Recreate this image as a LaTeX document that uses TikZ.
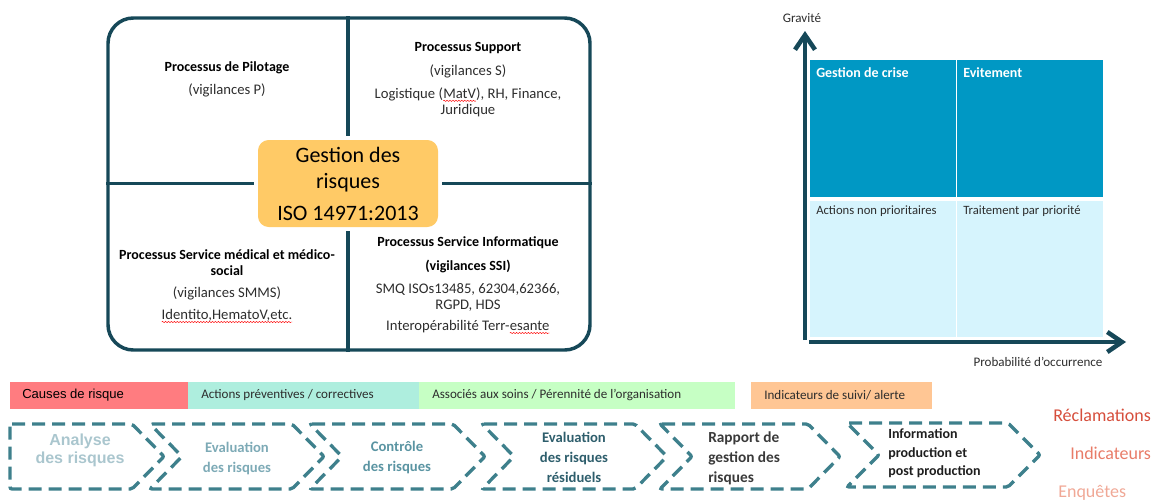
\documentclass[tikz,border=0pt]{standalone}
\usepackage{fontspec}
\setmainfont{Carlito}
\newfontfamily\arialfont{Liberation Sans}
\usetikzlibrary{arrows.meta,decorations.pathmorphing,calc}

\definecolor{frameteal}{RGB}{22,72,88}
\definecolor{coreyellow}{RGB}{255,202,102}
\definecolor{riskdark}{RGB}{0,152,196}
\definecolor{risklight}{RGB}{214,244,253}
\definecolor{chevteal}{RGB}{62,128,140}
\definecolor{barred}{RGB}{255,124,128}
\definecolor{barmint}{RGB}{174,238,222}
\definecolor{bargreen}{RGB}{198,255,196}
\definecolor{barpeach}{RGB}{255,198,148}
\definecolor{stepA}{RGB}{170,198,206}
\definecolor{stepB}{RGB}{125,170,182}
\definecolor{stepC}{RGB}{90,148,162}
\definecolor{stepD}{RGB}{46,94,108}
\definecolor{stepE}{RGB}{58,58,58}
\definecolor{stepF}{RGB}{30,30,30}
\definecolor{reclam}{RGB}{214,78,60}
\definecolor{indic}{RGB}{232,124,104}
\definecolor{enquet}{RGB}{240,168,150}
\definecolor{bodytext}{RGB}{45,45,45}

\tikzset{
  frame/.style={draw=frameteal, line width=2.6pt, rounded corners=19pt},
  divider/.style={draw=frameteal, line width=2.4pt, shorten >=3pt},
  core/.style={fill=coreyellow, rounded corners=8pt, align=center, inner sep=0pt,
    font=\fontsize{16.5}{19.5}\selectfont, text=black},
  head/.style={font=\fontsize{10.5}{11.5}\selectfont\bfseries, text=black, align=center, inner sep=0pt},
  body/.style={font=\fontsize{11}{12}\selectfont, text=bodytext, align=center, inner sep=0pt},
  spellwave/.style={draw=red, line width=0.35pt, decorate,
    decoration={snake, amplitude=0.45pt, segment length=2.2pt}},
  axis/.style={draw=frameteal, line width=3.4pt, line cap=butt,
    -{Straight Barb[length=11pt, width=15pt]}},
  quadhead/.style={font=\fontsize{10.5}{12}\selectfont\bfseries, text=white, anchor=west, inner sep=0pt},
  quadbody/.style={font=\fontsize{9.5}{11}\selectfont, text=bodytext, anchor=west, inner sep=0pt},
  axislabel/.style={font=\fontsize{9.8}{11}\selectfont, text=bodytext, inner sep=0pt},
  bartext/.style={font=\fontsize{9.8}{11}\selectfont, text=bodytext, anchor=west, inner sep=0pt},
  chev/.style={draw=chevteal, line width=2.5pt, dash pattern=on 9.75pt off 5.25pt,
    rounded corners=1.5pt, line cap=butt},
  steptext/.style={font=\fontsize{11}{15}\selectfont\bfseries, align=center, inner sep=0pt},
  sidelabel/.style={font=\fontsize{13.5}{16}\selectfont, anchor=west, inner sep=0pt},
}

% word with a red wavy underline
\newcommand\spellmark[1]{\tikz[baseline=(sm.base)]{\node[inner sep=0pt,outer sep=0pt](sm){#1};%
  \draw[spellwave]([yshift=-2pt]sm.base west)--([yshift=-2pt]sm.base east);}}

\begin{document}
\begin{tikzpicture}[x=0.75pt, y=-0.75pt]
\useasboundingbox (0,0) rectangle (1157,500);

% ---------- process map ----------
\node[frame, minimum width=361.5pt, minimum height=249pt] (frame) at (349,184) {};
\node[core, minimum width=135pt, minimum height=65.25pt] (core) at (348,183.5)
  {Gestion des\\risques\\[4.5pt]ISO 14971:2013};
\draw[divider] (core.north |- frame.north) -- (core.north);
\draw[divider] (core.south |- frame.south) -- (core.south);
\draw[divider] (frame.west |- core.west) -- (core.west);
\draw[divider] (frame.east |- core.east) -- (core.east);

\node[head] (pil1) at (227,68) {Processus de Pilotage};
\node[body] (pil2) at (227,90) {(vigilances P)};

\node[head] (sup1) at (468,48) {Processus Support};
\node[body] (sup2) at (468,71) {(vigilances S)};
\node[body] (sup3) at (468,102) {Logistique (\spellmark{MatV}), RH, Finance,\\Juridique};

\node[head] (med1) at (227,262.5) {Processus Service médical et médico-\\social};
\node[body] (med2) at (227,293) {(vigilances SMMS)};
\node[body] (med3) at (227,316) {\spellmark{Identito,HematoV,etc.}};

\node[head] (inf1) at (468,243) {Processus Service Informatique};
\node[head] (inf2) at (468,266) {(vigilances SSI)};
\node[body] (inf3) at (468,297) {SMQ ISOs13485, 62304,62366,\\RGPD, HDS};
\node[body] (inf4) at (468,327) {Interopérabilité Terr-\spellmark{esante}};

% ---------- risk matrix ----------
\fill[riskdark]  (810,60)  rectangle (955.5,197);
\fill[riskdark]  (957,60)  rectangle (1103,197);
\fill[risklight] (810,201) rectangle (955.5,337);
\fill[risklight] (957,201) rectangle (1103,337);

\node[quadhead] (crise) at (816,73) {Gestion de crise};
\node[quadhead] (evit) at (963,73) {Evitement};
\node[quadbody] (nonprio) at (816,211) {Actions non prioritaires};
\node[quadbody] (prio) at (963,211) {Traitement par priorité};

\coordinate (yfoot) at (805,340);
\coordinate (ytop) at (805,31);
\coordinate (xfoot) at (809,342);
\coordinate (xend) at (1126,342);
\draw[axis] (yfoot) -- (ytop);
\draw[axis] (xfoot) -- (xend);
\node[axislabel] (grav) at (802,18) {Gravité};
\node[axislabel] (proba) at (1038,362) {Probabilité d'occurrence};

% ---------- category bars ----------
\fill[barred]   (10,382)  rectangle (188,409);
\fill[barmint]  (188,382) rectangle (419,409);
\fill[bargreen] (419,382) rectangle (735,409);
\fill[barpeach] (751,382) rectangle (932,409);
\node[bartext, font=\arialfont\fontsize{9.8}{11}\selectfont, text=black] (causes) at (22,395.5) {Causes de risque};
\node[bartext] (actions) at (201,395.5) {Actions préventives / correctives};
\node[bartext] (soins) at (432,395.5) {Associés aux soins / Pérennité de l'organisation};
\node[bartext] (suivi) at (764,395.5) {Indicateurs de suivi/ alerte};

% ---------- process chevrons ----------
\draw[chev] (10,424) -- (132,424) -- (164,456.5) -- (132,489) -- (10,489) -- cycle;
\draw[chev] (150,424) -- (292,424) -- (324,456.5) -- (292,489) -- (150,489) -- (182,456.5) -- cycle;
\draw[chev] (310,424) -- (453,424) -- (485,456.5) -- (453,489) -- (310,489) -- (342,456.5) -- cycle;
\draw[chev] (482,424) -- (635,424) -- (667,456.5) -- (635,489) -- (482,489) -- (514,456.5) -- cycle;
\draw[chev] (660,424) -- (808,424) -- (840,456.5) -- (808,489) -- (660,489) -- (692,456.5) -- cycle;
\draw[chev] (847,423) -- (1008,423) -- (1040,455) -- (1008,487) -- (847,487) -- (879,455) -- cycle;

\node[steptext, text=stepA, font=\arialfont\bfseries\fontsize{12}{13.5}\selectfont] (s1) at (80,450) {Analyse\\des risques};
\node[steptext, text=stepB] (s2) at (237,458) {Evaluation\\des risques};
\node[steptext, text=stepC] (s3) at (397,457.5) {Contrôle\\des risques};
\node[steptext, text=stepD] (s4) at (574,457.5) {Evaluation\\des risques\\résiduels};
\node[steptext, text=stepE, align=left, anchor=west, font=\fontsize{11.5}{15}\selectfont\bfseries] (s5) at (708,458) {Rapport de\\gestion des\\risques};
\node[steptext, text=stepF, align=left, anchor=west, font=\fontsize{10.5}{14}\selectfont\bfseries] (s6) at (888,453.5) {Information\\production et\\post production};

\node[sidelabel, text=reclam] (recl) at (1053,415) {Réclamations};
\node[sidelabel, text=indic] (indi) at (1070,453) {Indicateurs};
\node[sidelabel, text=enquet] (enqu) at (1058,493) {Enquêtes};
\end{tikzpicture}
\end{document}
